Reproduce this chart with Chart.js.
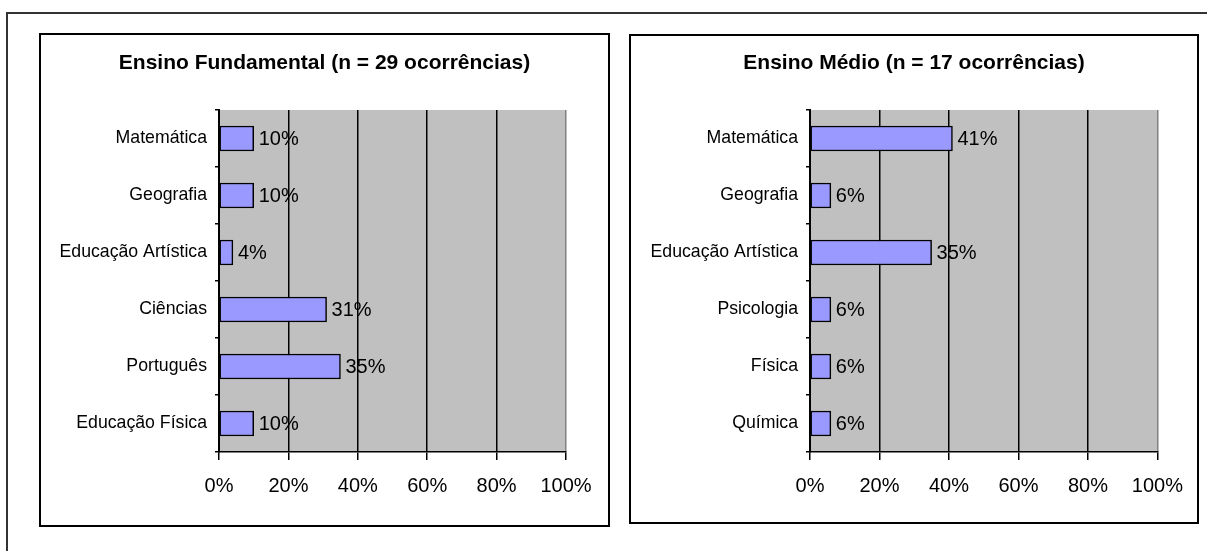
<!DOCTYPE html>
<html>
<head>
<meta charset="utf-8">
<script src="https://cdn.jsdelivr.net/npm/chart.js@4.4.1/dist/chart.umd.min.js"></script>
<style>
    html, body { margin: 0; padding: 0; background: #fff; }
    body { width: 1207px; height: 551px; position: relative; overflow: hidden; }
    .frame { position: absolute; left: 6px; top: 12px; width: 1300px; height: 700px; border: 2px solid #333; box-sizing: border-box; }
    .panel { position: absolute; border: 2px solid #000; box-sizing: border-box; background: #fff; }
    #panel-ef { left: 39px; top: 33px; width: 571px; height: 494px; }
    #panel-em { left: 629px; top: 34px; width: 570px; height: 490px; }
    .panel canvas { display: block; }
</style>
</head>
<body>
<div class="frame"></div>
<div class="panel" id="panel-ef"><canvas id="chart-ef" width="567" height="490"></canvas></div>
<div class="panel" id="panel-em"><canvas id="chart-em" width="566" height="486"></canvas></div>

<script>
// Ensino Fundamental
const fundCategories = ['Matemática', 'Geografia', 'Educação Artística', 'Ciências', 'Português', 'Educação Física'];
const fundValues = [10, 10, 4, 31, 35, 10];

// Ensino Médio
const medioCategories = ['Matemática', 'Geografia', 'Educação Artística', 'Psicologia', 'Física', 'Química'];
const medioValues = [41, 6, 35, 6, 6, 6];

const xTicks = [0, 20, 40, 60, 80, 100];

const FONT = '"Liberation Sans", Arial, sans-serif';

// gray plot background
const plotBackground = {
    id: 'plotBackground',
    beforeDraw(chart) {
        const a = chart.chartArea;
        const ctx = chart.ctx;
        ctx.save();
        ctx.fillStyle = '#c0c0c0';
        ctx.fillRect(a.left, a.top, a.right - a.left, a.bottom - a.top);
        ctx.restore();
    }
};

// value labels to the right of the bars
const barLabels = {
    id: 'barLabels',
    afterDatasetsDraw(chart) {
        const ctx = chart.ctx;
        const meta = chart.getDatasetMeta(0);
        const data = chart.data.datasets[0].data;
        ctx.save();
        ctx.font = '20px ' + FONT;
        ctx.fillStyle = '#000';
        ctx.textAlign = 'left';
        ctx.textBaseline = 'middle';
        meta.data.forEach(function(bar, i) {
            ctx.fillText(data[i] + '%', bar.x + 5, bar.y + 1);
        });
        ctx.restore();
    }
};

// centered title
const panelTitle = {
    id: 'panelTitle',
    afterDraw(chart, args, opts) {
        const ctx = chart.ctx;
        ctx.save();
        ctx.font = 'bold 21px ' + FONT;
        ctx.fillStyle = '#000';
        ctx.textAlign = 'center';
        ctx.textBaseline = 'middle';
        ctx.fillText(opts.text, chart.width / 2, opts.y);
        ctx.restore();
    }
};

function makeChart(canvasId, categories, values, title, layout) {
    return new Chart(document.getElementById(canvasId), {
        type: 'bar',
        data: {
            labels: categories,
            datasets: [{
                data: values,
                backgroundColor: '#9999ff',
                borderColor: '#000',
                borderWidth: 1.5,
                borderSkipped: false,
                barThickness: 25
            }]
        },
        plugins: [plotBackground, barLabels, panelTitle],
        options: {
            indexAxis: 'y',
            responsive: false,
            animation: false,
            layout: {
                padding: { left: 0, right: layout.right, top: layout.top, bottom: 0 }
            },
            plugins: {
                legend: { display: false },
                title: { display: false },
                tooltip: { enabled: false },
                panelTitle: { text: title, y: layout.titleY }
            },
            scales: {
                x: {
                    min: 0,
                    max: 100,
                    afterBuildTicks: function(scale) {
                        scale.ticks = xTicks.map(v => ({ value: v }));
                    },
                    afterFit: function(scale) {
                        scale.height = layout.xHeight;
                    },
                    ticks: {
                        color: '#000',
                        padding: 14,
                        maxRotation: 0,
                        font: { family: FONT, size: 20 },
                        callback: function(value) {
                            return value + '%';
                        }
                    },
                    grid: {
                        color: function(ctx) {
                            return ctx.index === xTicks.length - 1 ? '#808080' : '#000';
                        },
                        lineWidth: 1.5,
                        tickColor: '#000',
                        tickLength: 8
                    },
                    border: { display: true, color: '#000', width: 1.5 }
                },
                y: {
                    afterFit: function(scale) {
                        scale.width = layout.yWidth;
                    },
                    ticks: {
                        color: '#000',
                        padding: 8,
                        font: { family: FONT, size: 17.7 }
                    },
                    grid: {
                        offset: true,
                        drawOnChartArea: false,
                        color: '#000',
                        lineWidth: 1.5,
                        tickLength: 4
                    },
                    border: { display: true, color: '#000', width: 2 }
                }
            }
        }
    });
}

makeChart('chart-ef', fundCategories, fundValues, 'Ensino Fundamental (n = 29 ocorrências)',
    { right: 42, top: 75, xHeight: 73, yWidth: 178, titleY: 28 });

makeChart('chart-em', medioCategories, medioValues, 'Ensino Médio (n = 17 ocorrências)',
    { right: 37, top: 74, xHeight: 70, yWidth: 179, titleY: 27 });
</script>
</body>
</html>
